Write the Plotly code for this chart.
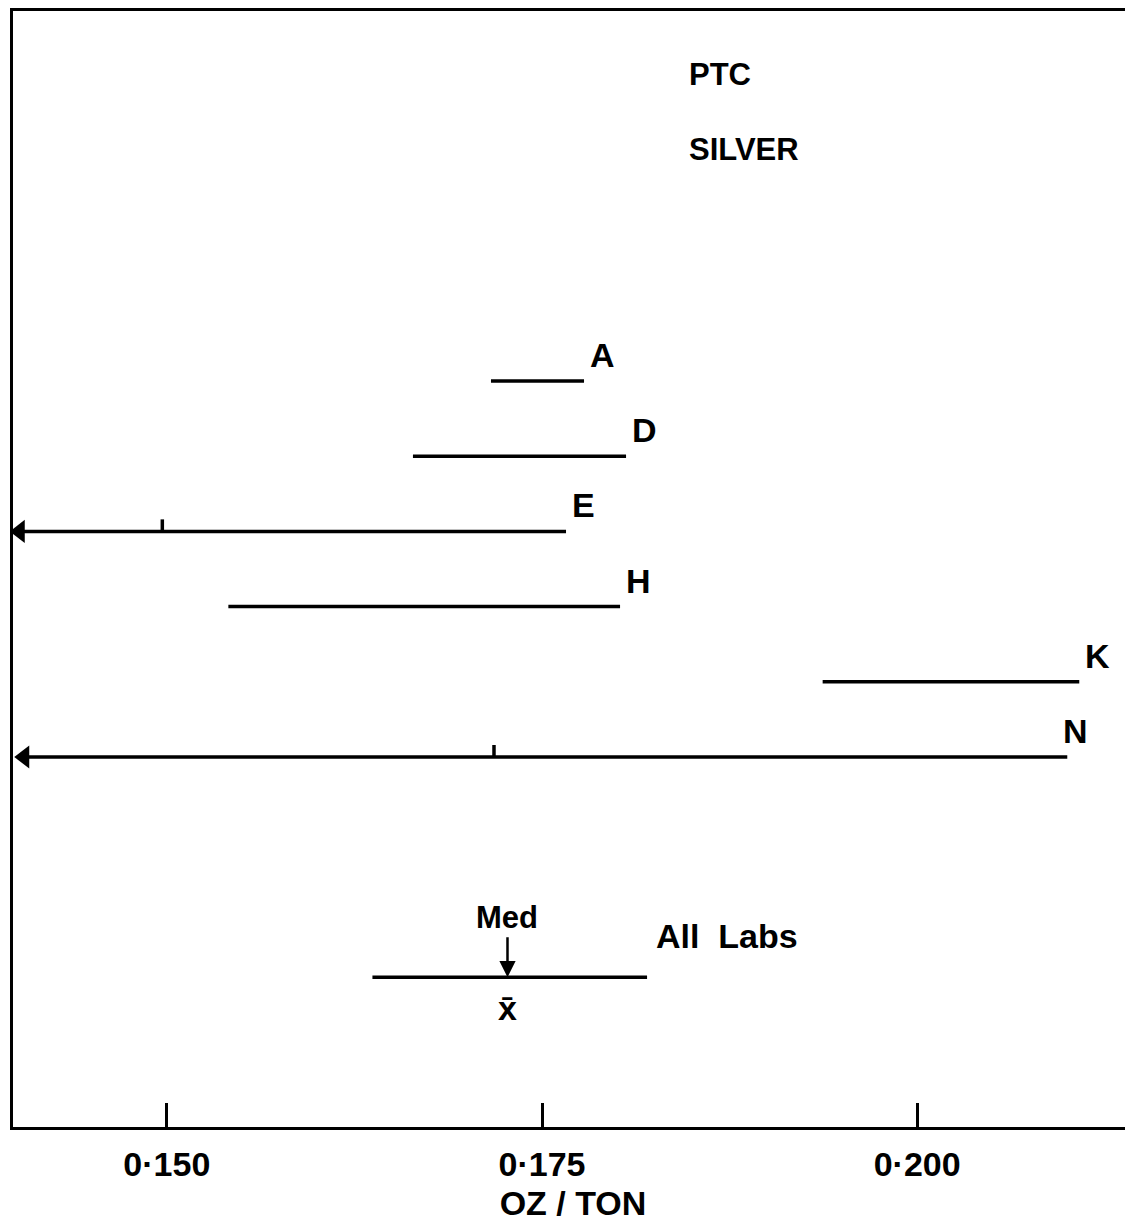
import plotly.graph_objects as go

# ---- data ----
labs = ["A", "D", "E", "H", "K", "N"]
lab_rows = [0, 1, 2, 3, 4, 5]
low = [0.1716, 0.1664, 0.1402, 0.1541, 0.1937, 0.1405]
high = [0.1778, 0.1806, 0.1766, 0.1802, 0.2108, 0.2100]
off_scale_low = [False, False, True, False, False, True]
inner_mark = [None, None, 0.1497, None, None, 0.1718]

all_low = 0.1637
all_high = 0.1820
all_median = 0.1727
all_mean = 0.1727
all_row = 7.93

tick_vals = [0.150, 0.175, 0.200]
tick_text = ["0·150", "0·175", "0·200"]

FONT = "Liberation Sans"
BLACK = "#000000"
TXT = dict(family=FONT, size=34, color=BLACK, weight="bold")
TITLE_TXT = dict(family=FONT, size=31, color=BLACK, weight="bold")

fig = go.Figure()

for name, r, lo, hi, off, mk in zip(labs, lab_rows, low, high, off_scale_low, inner_mark):
    fig.add_trace(go.Scatter(x=[lo, hi], y=[r, r], mode="lines",
                             line=dict(color=BLACK, width=3.5), showlegend=False, hoverinfo="skip"))
    if off:
        fig.add_trace(go.Scatter(x=[lo], y=[r], mode="markers",
                                 marker=dict(symbol="triangle-left", size=20, color=BLACK),
                                 showlegend=False, hoverinfo="skip"))
    if mk is not None:
        fig.add_trace(go.Scatter(x=[mk, mk], y=[r, r - 0.16], mode="lines",
                                 line=dict(color=BLACK, width=3.5), showlegend=False, hoverinfo="skip"))
    shift = -6 if name == "N" else 4
    fig.add_annotation(x=hi, y=r, text=name, showarrow=False, xanchor="left", yanchor="bottom",
                       xshift=shift, yshift=5, font=TXT)

# all labs
fig.add_trace(go.Scatter(x=[all_low, all_high], y=[all_row, all_row], mode="lines",
                         line=dict(color=BLACK, width=3.5), showlegend=False, hoverinfo="skip"))
fig.add_annotation(x=all_median, y=all_row, text="Med", showarrow=True, arrowhead=2, arrowsize=1.3,
                   arrowwidth=2.5, arrowcolor=BLACK, ax=0, ay=-40, yanchor="bottom",
                   font=dict(family=FONT, size=31, color=BLACK, weight="bold"))
fig.add_annotation(x=all_mean, y=all_row, text="x̄", showarrow=False, yanchor="top", yshift=-10,
                   font=TXT)
fig.add_annotation(x=all_high, y=all_row, text="All  Labs", showarrow=False, xanchor="left",
                   yanchor="bottom", xshift=7, yshift=20, font=TXT)

fig.add_annotation(xref="paper", yref="paper", x=0.602, y=0.9427, text="PTC", showarrow=False,
                   xanchor="left", yanchor="middle", font=TITLE_TXT)
fig.add_annotation(xref="paper", yref="paper", x=0.602, y=0.8755, text="SILVER", showarrow=False,
                   xanchor="left", yanchor="middle", font=TITLE_TXT)

fig.update_layout(
    width=1125, height=1219,
    margin=dict(l=5, r=0, t=3, b=100),
    paper_bgcolor="white", plot_bgcolor="white",
    showlegend=False,
    xaxis=dict(range=[0.13975, 0.21438], tickvals=tick_vals, ticktext=tick_text,
               ticks="inside", ticklen=24, tickwidth=3, tickcolor=BLACK,
               showline=True, linecolor=BLACK, linewidth=3, mirror=True,
               showgrid=False, zeroline=False, ticklabelstandoff=5,
               tickfont=TXT,
               title=dict(text="OZ / TON", standoff=10, font=TXT)),
    yaxis=dict(range=[9.92, -4.92], showticklabels=False, ticks="", showgrid=False, zeroline=False,
               showline=True, linecolor=BLACK, linewidth=3),
)

fig.write_html("out.html")
